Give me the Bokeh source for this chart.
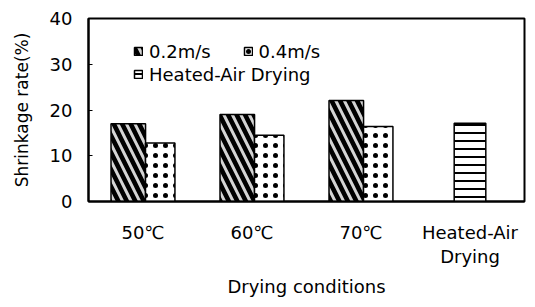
from bokeh.plotting import figure
from bokeh.models import (Range1d, FixedTicker, Legend, LegendItem, ColumnDataSource)
from bokeh.embed import file_html
from bokeh.resources import INLINE

# ---- data ----
categories = ["50\u2103", "60\u2103", "70\u2103", "Heated-Air\nDrying"]
speed_02 = [17.0, 19.0, 22.1]       # 0.2 m/s (50, 60, 70 C)
speed_04 = [12.8, 14.5, 16.4]       # 0.4 m/s (50, 60, 70 C)
heated_air = [17.1]                 # heated-air drying
y_ticks = [0, 10, 20, 30, 40]
series_labels = ["0.2m/s", "0.4m/s", "Heated-Air Drying"]

FONT = "DejaVu Sans"

p = figure(width=527, height=299, output_backend="svg", toolbar_location=None,
           x_range=Range1d(-0.5, 3.5), y_range=Range1d(0, 40),
           min_border_left=88, min_border_top=18, min_border_right=3,
           min_border_bottom=0)

p.xgrid.visible = False
p.ygrid.visible = False
p.outline_line_color = "black"
p.outline_line_width = 2
p.background_fill_color = "white"
p.border_fill_color = "white"

idx3 = list(range(len(speed_02)))
src02 = ColumnDataSource(dict(x=[i - 0.135 for i in idx3], top=speed_02))
src04 = ColumnDataSource(dict(x=[i + 0.158 for i in idx3], top=speed_04))
srch = ColumnDataSource(dict(x=[3.0], top=heated_air))

r02 = p.vbar(x="x", top="top", bottom=0, width=0.317, source=src02,
             fill_color="black", line_color="black", line_width=1.5,
             hatch_pattern="\\", hatch_color="#d4d4d4", hatch_weight=3, hatch_scale=17)
r04 = p.vbar(x="x", top="top", bottom=0, width=0.27, source=src04,
             fill_color="white", line_color="black", line_width=1.5,
             hatch_pattern="dot", hatch_color="black", hatch_weight=1.6, hatch_scale=10)
rh = p.vbar(x="x", top="top", bottom=0, width=0.29, source=srch,
            fill_color="white", line_color="black", line_width=1.5,
            hatch_pattern="-", hatch_color="black", hatch_weight=2, hatch_scale=8)

# axes
p.xaxis.ticker = FixedTicker(ticks=list(range(len(categories))))
p.xaxis.major_label_overrides = {i: c for i, c in enumerate(categories)}
p.yaxis.ticker = FixedTicker(ticks=y_ticks)
for ax in (p.xaxis[0], p.yaxis[0]):
    ax.axis_line_color = "black"
    ax.axis_line_width = 2
    ax.major_label_text_font = FONT
    ax.major_label_text_font_size = "18px"
    ax.major_label_text_color = "black"
    ax.axis_label_text_font = FONT
    ax.axis_label_text_font_style = "normal"
    ax.axis_label_text_color = "black"
    ax.minor_tick_line_color = None
p.xaxis.major_tick_line_color = None
p.xaxis.major_label_standoff = 14
p.xaxis.major_label_text_line_height = 1.15
p.xaxis.axis_label = "Drying conditions"
p.xaxis.axis_label_text_font_size = "18px"
p.xaxis.axis_label_standoff = 6
p.yaxis.major_tick_in = 4
p.yaxis.major_tick_out = 0
p.yaxis.major_tick_line_color = "black"
p.yaxis.major_label_standoff = 16
p.yaxis.axis_label = "Shrinkage rate(%)"
p.yaxis.axis_label_text_font_size = "17px"
p.yaxis.axis_label_standoff = 15

def make_legend(items, loc, spacing):
    lg = Legend(items=items, location=loc, orientation="horizontal",
                background_fill_alpha=0, border_line_color=None,
                padding=0, margin=0, spacing=spacing,
                glyph_width=10, glyph_height=10, label_standoff=6,
                label_height=22, label_text_font=FONT,
                label_text_font_size="18px", label_text_color="black")
    return lg

leg1 = make_legend([LegendItem(label=series_labels[0], renderers=[r02]),
                    LegendItem(label=series_labels[1], renderers=[r04])], (45, 139), 32)
leg2 = make_legend([LegendItem(label=series_labels[2], renderers=[rh])], (45, 116), 0)
p.add_layout(leg1, "center")
p.add_layout(leg2, "center")

open("out.html", "w").write(file_html(p, INLINE))
